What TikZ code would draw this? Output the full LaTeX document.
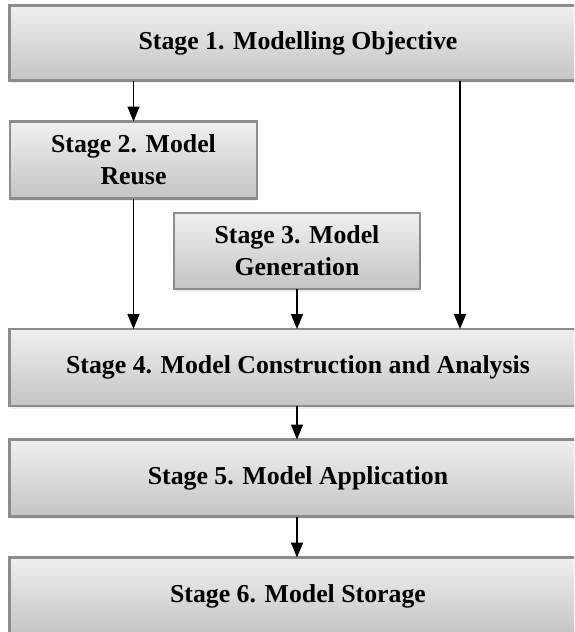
\documentclass[tikz,border=0pt]{standalone}
\usepackage{fontspec}
\setmainfont{Liberation Serif}
\usetikzlibrary{arrows.meta,shadows}
\begin{document}
\begin{tikzpicture}[x=1pt,y=-1pt,
  stagebox/.style={rectangle, draw=black!45, line width=2.6pt,
    top color=black!6, bottom color=black!23,
    drop shadow={opacity=0.12, shadow xshift=0pt, shadow yshift=-2.5pt},
    font=\bfseries\fontsize{25.8}{32}\selectfont, align=center,
    inner sep=0pt, outer sep=0pt},
  flow/.style={line width=1.6pt, draw=black,
    -{Triangle[width=12pt,length=15pt]}}]
  \useasboundingbox (0,0) rectangle (574,632);
  \fill[white] (0,0) rectangle (574,632);
  \clip (0,0) rectangle (574,632);

  % stage boxes (centres and sizes in pixel units)
  \node[stagebox, minimum width=577pt, minimum height=75pt]
    (s1) at (298,43) {Stage 1. Modelling Objective};
  \node[stagebox, minimum width=247pt, minimum height=77pt]
    (s2) at (133.5,160) {Stage 2. Model\\Reuse};
  \node[stagebox, minimum width=246pt, minimum height=76pt]
    (s3) at (297,251) {Stage 3. Model\\Generation};
  \node[stagebox, minimum width=577pt, minimum height=77pt]
    (s4) at (298,367.5) {Stage 4. Model Construction and Analysis};
  \node[stagebox, minimum width=577pt, minimum height=77pt]
    (s5) at (298,478) {Stage 5. Model Application};
  \node[stagebox, minimum width=577pt, minimum height=77pt]
    (s6) at (298,596) {Stage 6. Model Storage};

  % column of the long arrow from stage 1 to stage 4
  \coordinate (longcol) at (460,0);

  % connectors
  \draw[flow] (s1.south -| s2) -- (s2.north);
  \draw[flow] (s2.south) -- (s2.south |- s4.north);
  \draw[flow] (s3.south) -- (s3.south |- s4.north);
  \draw[flow] (s1.south -| longcol) -- (s4.north -| longcol);
  \draw[flow] (s4.south -| s3) -- (s5.north -| s3);
  \draw[flow] (s5.south -| s3) -- (s6.north -| s3);
\end{tikzpicture}
\end{document}
